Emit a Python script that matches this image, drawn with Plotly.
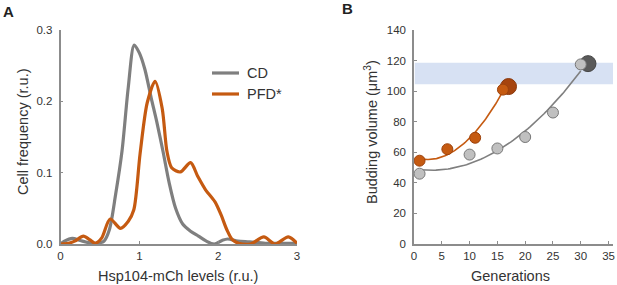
import numpy as np
import plotly.graph_objects as go

W, H = 617, 285

# ---------- Panel A data ----------
cd_x = [0.0, 0.05, 0.15, 0.25, 0.35, 0.45, 0.55, 0.62, 0.70, 0.78, 0.86, 0.935, 1.00, 1.07, 1.15,
        1.22, 1.30, 1.38, 1.46, 1.55, 1.65, 1.75, 1.85, 1.95, 2.05, 2.12, 2.25, 2.40, 2.60, 3.0]
cd_y = [0.000, 0.004, 0.008, 0.005, 0.002, 0.001, 0.004, 0.020, 0.070, 0.130, 0.220, 0.279, 0.268,
        0.245, 0.205, 0.172, 0.130, 0.085, 0.050, 0.028, 0.018, 0.011, 0.004, 0.000, 0.005, 0.007,
        0.004, 0.003, 0.001, 0.001]
pfd_x = [0.0, 0.10, 0.18, 0.29, 0.37, 0.44, 0.52, 0.63, 0.76, 0.86, 0.93, 1.01, 1.10, 1.20, 1.29,
         1.35, 1.41, 1.52, 1.65, 1.74, 1.84, 1.96, 2.04, 2.11, 2.18, 2.26, 2.41, 2.58, 2.72, 2.89, 3.0]
pfd_y = [0.000, 0.001, 0.004, 0.011, 0.006, 0.001, 0.008, 0.035, 0.022, 0.032, 0.048, 0.127, 0.198,
         0.228, 0.190, 0.130, 0.107, 0.101, 0.114, 0.095, 0.076, 0.059, 0.040, 0.020, 0.006, 0.001,
         0.000, 0.010, 0.000, 0.010, 0.001]
a_xticks = [0, 1, 2, 3]
a_yticks = [0.0, 0.1, 0.2, 0.3]
a_yticklabels = ["0.0", "0.1", "0.2", "0.3"]

# ---------- Panel B data ----------
gray_gen = [1, 10, 15, 20, 25, 30]
gray_vol = [46, 58.5, 62.5, 70, 86, 117.5]
gray_big_gen = [31.3]
gray_big_vol = [118]
orange_gen = [1, 6, 11, 16]
orange_vol = [54.5, 62, 69.5, 101]
orange_big_gen = [17]
orange_big_vol = [103]
band_low, band_high = 104.5, 118.5
b_xticks = [0, 5, 10, 15, 20, 25, 30, 35]
b_yticks = [0, 20, 40, 60, 80, 100, 120, 140]

GRAY = "#7f7f7f"
ORANGE = "#c55a11"
AXIS = "#8c8c8c"
TXT = "#333333"
FONT = "Liberation Sans, Arial, sans-serif"


def px(x):
    return x / W


def py(y):
    return 1 - y / H


fig = go.Figure()

# Panel A curves
fig.add_trace(go.Scatter(x=cd_x, y=cd_y, mode="lines", line=dict(color=GRAY, width=3.2, shape="spline", smoothing=0.8),
                         xaxis="x", yaxis="y", showlegend=False, hoverinfo="skip"))
fig.add_trace(go.Scatter(x=pfd_x, y=pfd_y, mode="lines", line=dict(color=ORANGE, width=3.2, shape="spline", smoothing=0.8),
                         xaxis="x", yaxis="y", showlegend=False, hoverinfo="skip"))

# Panel B fits
gcoef = np.polyfit(gray_gen, gray_vol, 2)
gx = np.linspace(gray_gen[0], gray_gen[-1], 80)
ocoef = np.polyfit(orange_gen, orange_vol, 2)
ox = np.linspace(orange_gen[0], orange_big_gen[0] - 0.3, 80)
fig.add_trace(go.Scatter(x=gx, y=np.polyval(gcoef, gx), mode="lines", line=dict(color=GRAY, width=1.6),
                         xaxis="x2", yaxis="y2", showlegend=False, hoverinfo="skip"))
fig.add_trace(go.Scatter(x=ox, y=np.polyval(ocoef, ox), mode="lines", line=dict(color=ORANGE, width=1.6),
                         xaxis="x2", yaxis="y2", showlegend=False, hoverinfo="skip"))

# Big markers (behind)
fig.add_trace(go.Scatter(x=gray_big_gen, y=gray_big_vol, mode="markers",
                         marker=dict(size=16, color="#5a5a5a", line=dict(color="#454545", width=1)),
                         xaxis="x2", yaxis="y2", showlegend=False, cliponaxis=False))
fig.add_trace(go.Scatter(x=orange_big_gen, y=orange_big_vol, mode="markers",
                         marker=dict(size=16, color="#a6440e", line=dict(color="#8a380b", width=1)),
                         xaxis="x2", yaxis="y2", showlegend=False, cliponaxis=False))
# Small markers
fig.add_trace(go.Scatter(x=gray_gen, y=gray_vol, mode="markers",
                         marker=dict(size=11, color="#c0c0c0", line=dict(color="#777777", width=1)),
                         xaxis="x2", yaxis="y2", showlegend=False, cliponaxis=False))
fig.add_trace(go.Scatter(x=orange_gen, y=orange_vol, mode="markers",
                         marker=dict(size=11, color=ORANGE, line=dict(color="#9c420c", width=1)),
                         xaxis="x2", yaxis="y2", showlegend=False, cliponaxis=False))

ydom = [py(244), py(30)]
axis_common = dict(showgrid=False, zeroline=False, showline=True, linecolor=AXIS, linewidth=1.5,
                   ticks="inside", ticklen=3, tickcolor=AXIS, tickwidth=1, automargin=False,
                   tickfont=dict(family=FONT, size=11.5, color=TXT), fixedrange=True)

fig.update_layout(
    width=W, height=H, margin=dict(l=0, r=0, t=0, b=0),
    paper_bgcolor="white", plot_bgcolor="rgba(0,0,0,0)",
    font=dict(family=FONT, color=TXT),
    xaxis=dict(domain=[px(60.5), px(297)], range=[0, 3], tickvals=a_xticks, anchor="y", **axis_common),
    yaxis=dict(domain=ydom, range=[0, 0.3], tickvals=a_yticks, ticktext=a_yticklabels, anchor="x",
               ticklabelstandoff=4, **axis_common),
    xaxis2=dict(domain=[px(414), px(613)], range=[0, 35.8], tickvals=b_xticks, anchor="y2", **axis_common),
    yaxis2=dict(domain=ydom, range=[0, 140], tickvals=b_yticks, anchor="x2", ticklabelstandoff=4, **axis_common),
    showlegend=False,
)

# Band
fig.add_shape(type="rect", xref="x2 domain", yref="y2", x0=0.004, x1=1, y0=band_low, y1=band_high,
              fillcolor="#d7e1f3", line=dict(width=0), layer="below")

# Legend (manual)
legend_items = [("CD", GRAY, 73), ("PFD*", ORANGE, 94)]
for name, col, yy in legend_items:
    fig.add_shape(type="line", xref="paper", yref="paper", x0=px(212), x1=px(239), y0=py(yy), y1=py(yy),
                  line=dict(color=col, width=3.2))
    fig.add_annotation(text=name, xref="paper", yref="paper", x=px(245), y=py(yy), xanchor="left",
                       yanchor="middle", showarrow=False, font=dict(family=FONT, size=14.5, color=TXT))

# Axis titles
titles = [
    ("Hsp104-mCh levels (r.u.)", 178, 276, 0, 14.5),
    ("Cell frequency (r.u.)", 23, 132, -90, 14.5),
    ("Generations", 510, 276, 0, 14.5),
    ("Budding volume (μm<sup>3</sup>)", 371, 132, -90, 14.5),
]
for t, x, y, ang, sz in titles:
    fig.add_annotation(text=t, xref="paper", yref="paper", x=px(x), y=py(y), xanchor="center", yanchor="middle",
                       showarrow=False, textangle=ang, font=dict(family=FONT, size=sz, color=TXT))

# Panel letters
for lab, x, y in [("A", 8, 11), ("B", 347, 9)]:
    fig.add_annotation(text="<b>" + lab + "</b>", xref="paper", yref="paper", x=px(x), y=py(y),
                       xanchor="center", yanchor="middle", showarrow=False,
                       font=dict(family=FONT, size=15, color="#222222"))

fig.write_html("out.html", config={"displayModeBar": False},
               post_script="document.body.style.margin='0';document.body.style.overflow='hidden';")
